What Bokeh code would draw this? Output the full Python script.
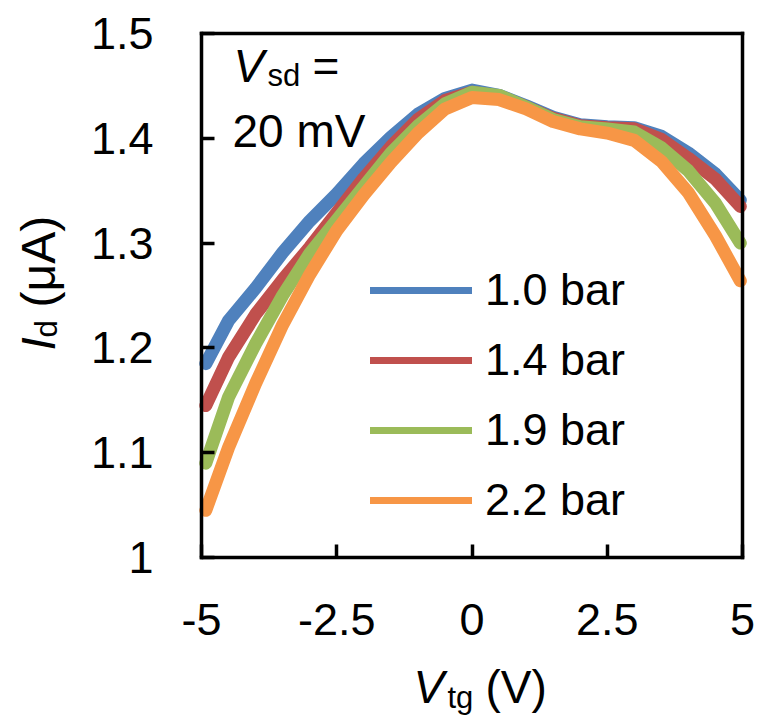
import math
from bokeh.plotting import figure
from bokeh.models import (Range1d, FixedTicker, CustomJSTickFormatter, Label,
                          Legend, LegendItem, LinearAxis)
from bokeh.embed import file_html
from bokeh.resources import INLINE

# ---------------- data ----------------
v_tg = [-4.92, -4.5, -4.0, -3.5, -3.0, -2.5, -2.0, -1.5, -1.0, -0.5, 0.0,
        0.5, 1.0, 1.5, 2.0, 2.5, 3.0, 3.5, 4.0, 4.5, 4.96]

id_1_0bar = [1.185, 1.226, 1.257, 1.291, 1.321, 1.347, 1.376, 1.401, 1.423, 1.438, 1.446,
             1.441, 1.431, 1.420, 1.413, 1.411, 1.410, 1.402, 1.386, 1.366, 1.341]
id_1_4bar = [1.145, 1.191, 1.232, 1.265, 1.296, 1.329, 1.362, 1.392, 1.418, 1.436, 1.444,
             1.440, 1.430, 1.419, 1.412, 1.410, 1.409, 1.399, 1.381, 1.361, 1.335]
id_1_9bar = [1.090, 1.153, 1.204, 1.250, 1.290, 1.322, 1.354, 1.386, 1.412, 1.433, 1.444,
             1.441, 1.430, 1.418, 1.411, 1.409, 1.406, 1.391, 1.369, 1.338, 1.300]
id_2_2bar = [1.045, 1.105, 1.166, 1.222, 1.270, 1.312, 1.346, 1.377, 1.405, 1.428, 1.439,
             1.437, 1.428, 1.416, 1.409, 1.405, 1.398, 1.378, 1.348, 1.307, 1.264]

series_labels = ["1.0 bar", "1.4 bar", "1.9 bar", "2.2 bar"]
series_colors = ["#4F81BD", "#C0504D", "#9BBB59", "#F79646"]

x_ticks = [-5, -2.5, 0, 2.5, 5]
x_tick_labels = ["-5", "-2.5", "0", "2.5", "5"]
y_ticks = [1.0, 1.1, 1.2, 1.3, 1.4, 1.5]
y_tick_labels = ["1", "1.1", "1.2", "1.3", "1.4", "1.5"]

x_lo, x_hi = -5.0, 5.0
y_lo, y_hi = 1.0, 1.5

FONT = "Liberation Sans"
W, H = 760, 720
# pixel box of the data region inside the canvas
BOX_L, BOX_R, BOX_T, BOX_B = 201, 742, 33, 557

# ranges chosen so that the data region sits at the box above while the
# plotting frame covers the whole canvas (axes are fixed-location)
px_x = (BOX_R - BOX_L) / (x_hi - x_lo)
px_y = (BOX_B - BOX_T) / (y_hi - y_lo)
xr = Range1d(x_lo - BOX_L / px_x, x_hi + (W - BOX_R) / px_x)
yr = Range1d(y_lo - (H - BOX_B) / px_y, y_hi + BOX_T / px_y)

p = figure(width=W, height=H, output_backend="svg", toolbar_location=None,
           x_range=xr, y_range=yr, x_axis_location=None, y_axis_location=None,
           min_border=0, min_border_left=0, min_border_right=0,
           min_border_top=0, min_border_bottom=0)
p.background_fill_color = "white"
p.border_fill_color = "white"
p.grid.visible = False
p.outline_line_color = None

fmt_js = """
const i = tvals.findIndex(t => Math.abs(t - tick) < 1e-9);
return i >= 0 ? tlabels[i] : '';
"""

def style_axis(ax):
    ax.axis_line_color = "black"
    ax.axis_line_width = 3.5
    ax.axis_line_cap = "square"
    ax.major_tick_line_color = "black"
    ax.major_tick_line_width = 3.5
    ax.major_tick_in = 13
    ax.major_tick_out = 0
    ax.minor_tick_line_color = None
    ax.major_label_text_font = FONT
    ax.major_label_text_font_size = "45px"
    ax.major_label_text_color = "black"

xaxis = LinearAxis(fixed_location=y_lo, bounds=(x_lo, x_hi),
                   ticker=FixedTicker(ticks=x_ticks),
                   formatter=CustomJSTickFormatter(args=dict(tvals=x_ticks, tlabels=x_tick_labels), code=fmt_js))
style_axis(xaxis)
xaxis.major_label_standoff = 46
p.add_layout(xaxis, "below")

yaxis = LinearAxis(fixed_location=x_lo, bounds=(y_lo, y_hi),
                   ticker=FixedTicker(ticks=y_ticks),
                   formatter=CustomJSTickFormatter(args=dict(tvals=y_ticks, tlabels=y_tick_labels), code=fmt_js))
style_axis(yaxis)
yaxis.major_label_standoff = 48
p.add_layout(yaxis, "left")

# plain top / right borders of the box
top_axis = LinearAxis(fixed_location=y_hi, bounds=(x_lo, x_hi), ticker=FixedTicker(ticks=[]))
style_axis(top_axis)
top_axis.major_tick_in = 0
p.add_layout(top_axis, "above")
right_axis = LinearAxis(fixed_location=x_hi, bounds=(y_lo, y_hi), ticker=FixedTicker(ticks=[]))
style_axis(right_axis)
right_axis.major_tick_in = 0
p.add_layout(right_axis, "right")

# ---------------- curves ----------------
all_series = [id_1_0bar, id_1_4bar, id_1_9bar, id_2_2bar]
for ys, col in zip(all_series, series_colors):
    p.line(v_tg, ys, line_color=col, line_width=13,
           line_cap="round", line_join="round")

# legend (thinner sample lines, as in the reference)
items = []
for lab_text, col in zip(series_labels, series_colors):
    r = p.line([math.nan], [math.nan], line_color=col, line_width=7, line_cap="round")
    items.append(LegendItem(label=lab_text, renderers=[r]))
legend = Legend(items=items, location=(370, 190), orientation="vertical",
                glyph_width=102, glyph_height=60, label_height=60,
                spacing=10, label_standoff=13, padding=0, margin=0,
                border_line_alpha=0, background_fill_alpha=0,
                label_text_font=FONT, label_text_font_size="45px",
                label_text_color="black")
p.add_layout(legend)

# ---------------- texts (canvas px; y measured from the bottom) ----------------
SHIFT = 17  # renderer places the alphabetic baseline ~17 px below the anchor

def lab(text, cx, cy, size, style="normal", angle=0.0):
    if angle == 0.0:
        cy = cy - SHIFT
    else:
        cx = cx - SHIFT
    p.add_layout(Label(x=cx, y=H - cy, x_units="screen", y_units="screen", text=text,
                       text_font=FONT, text_font_size=size, text_font_style=style,
                       text_color="black", text_baseline="alphabetic",
                       text_align="left", angle=angle))

# annotation V_sd = 20 mV
lab("V", 233, 82, "46px", "italic")
lab("sd", 267, 92, "31px")
lab("=", 312, 82, "46px")
lab("20 mV", 232, 147, "46px")

# x axis title V_tg (V)
lab("V", 413, 703, "46px", "italic")
lab("tg", 447, 714, "31px")
lab("(V)", 485, 703, "46px")

# y axis title I_d (μA), rotated
half_pi = math.pi / 2
lab("I", 55, 350, "48px", "italic", half_pi)
lab("d", 63, 337, "31px", "normal", half_pi)
lab("(μA)", 55, 307, "48px", "normal", half_pi)

open("out.html", "w").write(file_html(p, INLINE))
